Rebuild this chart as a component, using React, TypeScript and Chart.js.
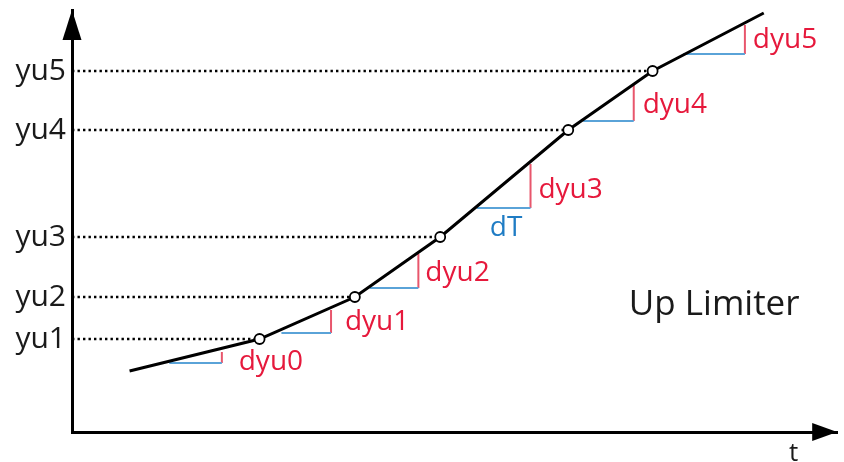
import React, { useEffect, useRef } from "react";
import { Chart, registerables } from "chart.js";

Chart.register(...registerables);

// ---- data (arbitrary units: t horizontally, y vertically) ----
const curveT = [58, 189, 285, 371, 500, 585, 697];
const curveY = [61, 93, 135, 195, 302, 361, 419];

const knotT = [189, 285, 371, 500, 585];
const yuLevels = [93, 135, 195, 302, 361];
const yTickLabels = ["yu1", "yu2", "yu3", "yu4", "yu5"];

const stepStartT = [98, 211, 300, 408, 515, 616];
const stepEndT = [151, 261, 349, 462, 566, 678];
const stepBaseY = [69, 99, 144, 224, 311, 378];
const stepTopY = [80, 122, 178, 268, 347, 407];

const stepLabels = ["dyu0", "dyu1", "dyu2", "dyu3", "dyu4", "dyu5"];
const stepLabelT = [168, 275, 356, 470, 575, 686];
const stepLabelY = [70, 110, 159, 242, 327, 392];

const dTLabel = "dT";
const dTLabelT = [421];
const dTLabelY = [204];

const titleText = "Up Limiter";
const titleT = [561];
const titleY = [127];

const xTickLabels = ["t"];
const xTickValues = [727];

const T_MAX = 771;
const Y_MAX = 422;

const FONT = "'Open Sans', 'Noto Sans', sans-serif";
const RED = "#e6193c";
const RED_LINE = "#e8566c";
const BLUE = "#1f7cc4";
const BLUE_LINE = "#5aa3d8";

const annotationPlugin = {
  id: "annotations",
  afterDatasetsDraw(chart: any) {
    const { ctx, scales } = chart;
    const xs = scales.x;
    const ys = scales.y;
    ctx.save();
    ctx.textAlign = "left";
    ctx.textBaseline = "middle";
    ctx.font = `28px ${FONT}`;
    ctx.fillStyle = RED;
    stepLabels.forEach((txt, i) => {
      ctx.fillText(txt, xs.getPixelForValue(stepLabelT[i]), ys.getPixelForValue(stepLabelY[i]));
    });
    ctx.fillStyle = BLUE;
    ctx.fillText(dTLabel, xs.getPixelForValue(dTLabelT[0]), ys.getPixelForValue(dTLabelY[0]));
    ctx.font = `35px ${FONT}`;
    ctx.fillStyle = "#1a1a1a";
    ctx.fillText(titleText, xs.getPixelForValue(titleT[0]), ys.getPixelForValue(titleY[0]));
    ctx.restore();
  },
  afterDraw(chart: any) {
    const { ctx, chartArea } = chart;
    const { left, right, top, bottom } = chartArea;
    ctx.save();
    ctx.fillStyle = "#000";
    // y axis arrow
    ctx.beginPath();
    ctx.moveTo(left, top);
    ctx.lineTo(left - 9.5, top + 30);
    ctx.lineTo(left + 9.5, top + 30);
    ctx.closePath();
    ctx.fill();
    // x axis arrow
    ctx.beginPath();
    ctx.moveTo(right, bottom);
    ctx.lineTo(right - 25, bottom - 9);
    ctx.lineTo(right - 25, bottom + 9);
    ctx.closePath();
    ctx.fill();
    ctx.restore();
  },
};

function seg(x0: number, y0: number, x1: number, y1: number) {
  return [
    { x: x0, y: y0 },
    { x: x1, y: y1 },
  ];
}

export default function App() {
  const ref = useRef<HTMLCanvasElement | null>(null);

  useEffect(() => {
    document.body.style.margin = "0";
    const canvas = ref.current!;
    const datasets: any[] = [];

    // knots (drawn on top)
    datasets.push({
      label: "knots",
      data: knotT.map((t, i) => ({ x: t, y: yuLevels[i] })),
      showLine: false,
      pointRadius: 5,
      pointBackgroundColor: "#fff",
      pointBorderColor: "#000",
      pointBorderWidth: 1.8,
      order: 0,
    });

    // curve
    datasets.push({
      label: "curve",
      data: curveT.map((t, i) => ({ x: t, y: curveY[i] })),
      showLine: true,
      borderColor: "#000",
      borderWidth: 3,
      pointRadius: 0,
      tension: 0,
      order: 1,
    });

    // dotted guides
    yuLevels.forEach((v, i) => {
      datasets.push({
        label: "guide" + i,
        data: seg(0, v, knotT[i], v),
        showLine: true,
        borderColor: "#000",
        borderWidth: 2.6,
        borderDash: [2.4, 3.1],
        pointRadius: 0,
        order: 3,
      });
    });

    // steps
    stepStartT.forEach((t0, i) => {
      datasets.push({
        label: "dt" + i,
        data: seg(t0, stepBaseY[i], stepEndT[i], stepBaseY[i]),
        showLine: true,
        borderColor: BLUE_LINE,
        borderWidth: 2,
        pointRadius: 0,
        order: 2,
      });
      datasets.push({
        label: "dy" + i,
        data: seg(stepEndT[i], stepBaseY[i], stepEndT[i], stepTopY[i]),
        showLine: true,
        borderColor: RED_LINE,
        borderWidth: 2,
        pointRadius: 0,
        order: 2,
      });
    });

    const chart = new Chart(canvas, {
      type: "scatter",
      data: { datasets },
      options: {
        animation: false,
        responsive: false,
        layout: { padding: { top: 10, right: 1, left: 0, bottom: 0 } },
        plugins: { legend: { display: false }, tooltip: { enabled: false } },
        events: [],
        scales: {
          x: {
            type: "linear",
            min: 0,
            max: T_MAX,
            grid: { display: false, drawTicks: false },
            border: { display: true, color: "#000", width: 3 },
            ticks: {
              autoSkip: false,
              padding: 6,
              color: "#1a1a1a",
              font: { family: FONT, size: 26 },
              callback: (_v: any, i: number) => xTickLabels[i],
              maxRotation: 0,
            },
            afterBuildTicks: (s: any) => {
              s.ticks = xTickValues.map((v) => ({ value: v }));
            },
            afterFit: (s: any) => {
              s.height = 30;
              s.paddingLeft = 0;
              s.paddingRight = 0;
            },
          },
          y: {
            type: "linear",
            min: 0,
            max: Y_MAX,
            grid: { display: false, drawTicks: false },
            border: { display: true, color: "#000", width: 3 },
            ticks: {
              autoSkip: false,
              padding: 6,
              color: "#1a1a1a",
              font: { family: FONT, size: 30 },
              callback: (_v: any, i: number) => yTickLabels[i],
            },
            afterBuildTicks: (s: any) => {
              s.ticks = yuLevels.map((v) => ({ value: v }));
            },
            afterFit: (s: any) => {
              s.width = 72;
              s.paddingTop = 0;
              s.paddingBottom = 0;
            },
          },
        },
      } as any,
      plugins: [annotationPlugin],
    });
    return () => chart.destroy();
  }, []);

  return (
    <div style={{ width: 844, height: 462, background: "#fff" }}>
      <canvas ref={ref} width={844} height={462} style={{ display: "block" }} />
    </div>
  );
}
